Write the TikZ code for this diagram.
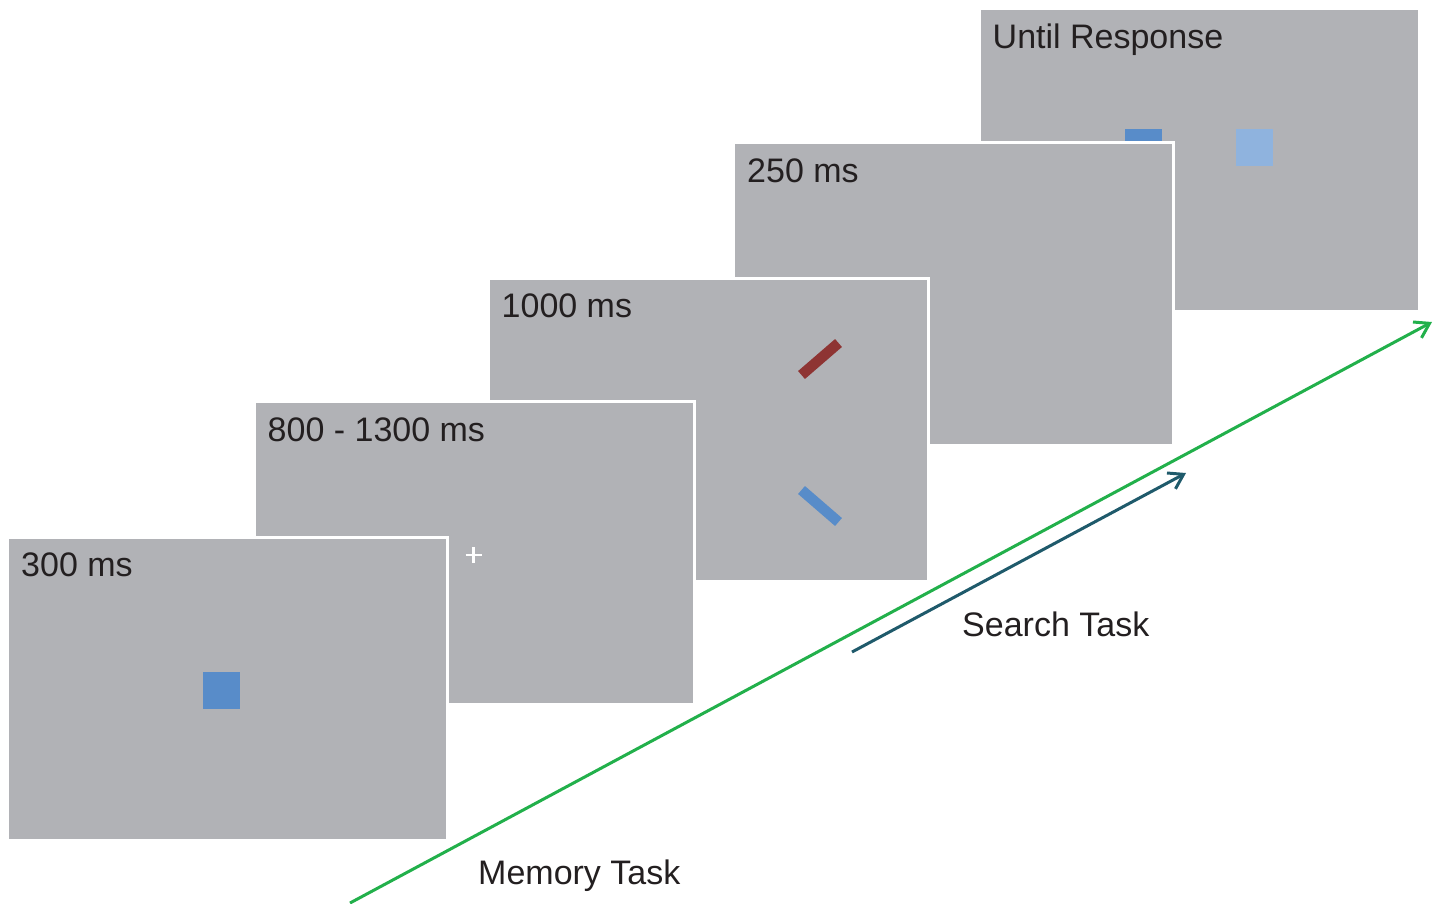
\documentclass[tikz,border=0pt]{standalone}
\usepackage{fontspec}
\setmainfont{Liberation Sans}
\definecolor{screengray}{RGB}{177,178,182}
\definecolor{cueblue}{RGB}{88,140,201}
\definecolor{probeblue}{RGB}{143,179,222}
\definecolor{targetred}{RGB}{142,52,51}
\definecolor{memgreen}{RGB}{34,176,75}
\definecolor{searchteal}{RGB}{31,90,107}
\definecolor{labeltext}{RGB}{35,31,32}
\usetikzlibrary{
    arrows.meta,
    positioning,
    calc
}

\begin{document}
\begin{tikzpicture}[x=1pt,y=-1pt,
    screen/.style={rectangle, fill=screengray, draw=white, line width=3pt,
        minimum width=440pt, minimum height=303pt, inner sep=0pt},
    timing/.style={anchor=base west, inner sep=0pt, text=labeltext,
        font=\fontsize{34}{40}\selectfont},
    patch/.style={rectangle, minimum size=37pt, inner sep=0pt},
    bar/.style={line width=10.5pt, line cap=butt},
    taskarrow/.style={line width=3pt, -{Straight Barb[length=14pt, width=18pt, line width=3pt]}}
]
    \useasboundingbox (0,0) rectangle (1440,903);

    % Until Response
    \node[screen] (f5) at (1199,160) {};
    \node[timing] (lab5) at ($(f5.north west)+(15,41)$) {Until Response};
    \node[patch, fill=cueblue] (probeA) at (1143.5,147.5) {};
    \node[patch, fill=probeblue] (probeB) at (1254.5,147.5) {};

    % 250 ms
    \node[screen] (f4) at (953.5,294) {};
    \node[timing] (lab4) at ($(f4.north west)+(15,41)$) {250 ms};

    % 1000 ms (search display)
    \node[screen] (f3) at (708,429.5) {};
    \node[timing] (lab3) at ($(f3.north west)+(15,41)$) {1000 ms};
    \draw[bar, targetred] (801.5,375) -- (838.5,343);
    \draw[bar, cueblue] (801.5,490) -- (838.5,522);

    % 800 - 1300 ms (fixation)
    \node[screen] (f2) at (474,553) {};
    \node[timing] (lab2) at ($(f2.north west)+(15,41)$) {800 - 1300 ms};
    \coordinate (fix) at (473.5,555);
    \draw[white, line width=2.5pt] ($(fix)+(-8,0)$) -- ($(fix)+(8,0)$)
        ($(fix)+(0,-8)$) -- ($(fix)+(0,8)$);

    % 300 ms (memory cue)
    \node[screen] (f1) at (227.5,688.5) {};
    \node[timing] (lab1) at ($(f1.north west)+(15,41)$) {300 ms};
    \node[patch, fill=cueblue] (cue) at (221.5,690.5) {};

    % Task arrows
    \coordinate (memstart) at (350,903);
    \coordinate (memend) at (1432,322);
    \draw[taskarrow, memgreen] (memstart) -- (memend);
    \node[timing] (memlab) at (478,884) {Memory Task};

    \coordinate (searchstart) at (852,652);
    \coordinate (searchend) at (1186,473);
    \draw[taskarrow, searchteal] (searchstart) -- (searchend);
    \node[timing] (searchlab) at (962,636) {Search Task};
\end{tikzpicture}
\end{document}
